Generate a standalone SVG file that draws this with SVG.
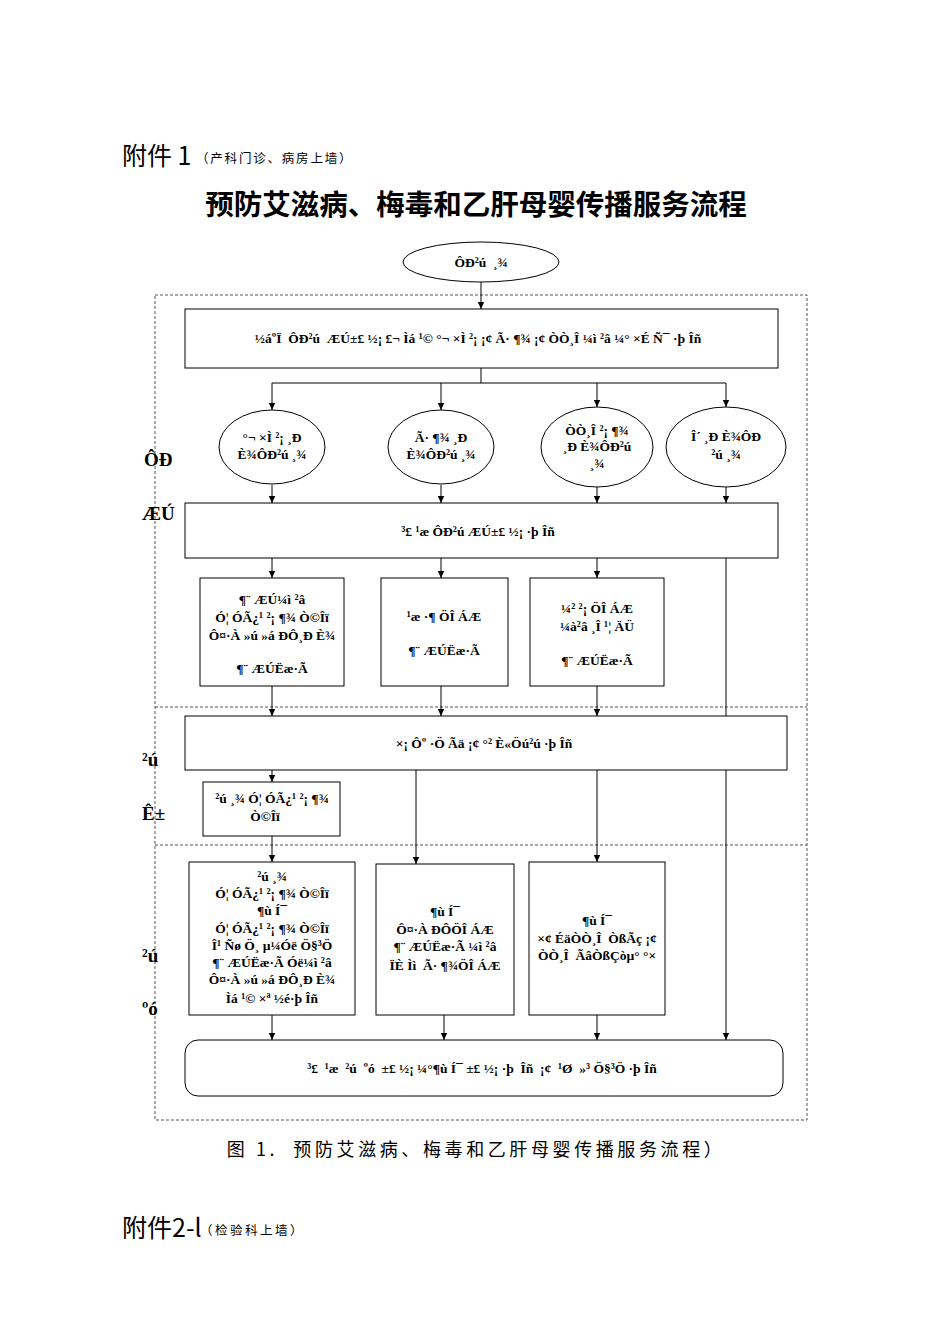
<svg xmlns="http://www.w3.org/2000/svg" width="950" height="1344" viewBox="0 0 950 1344">
<defs>
<marker id="ah" markerWidth="8" markerHeight="8" refX="7" refY="4" orient="auto" markerUnits="userSpaceOnUse">
<path d="M0,0.8 L7,4 L0,7.2 Z" fill="#000"/>
</marker>
<style>
.box{fill:#fff;stroke:#000;stroke-width:1}
.ln{fill:none;stroke:#000;stroke-width:1}
.arr{fill:none;stroke:#000;stroke-width:1;marker-end:url(#ah)}
.dash{fill:none;stroke:#555;stroke-width:1;stroke-dasharray:3,2}
.t{font-family:"Liberation Serif",serif;font-weight:bold;font-size:13.5px;fill:#000;text-anchor:middle;white-space:pre}
.side{font-family:"Liberation Serif",serif;font-weight:bold;font-size:19px;fill:#000}
.cjk{font-family:"Noto Sans CJK SC",sans-serif;fill:#000;white-space:pre}
</style>
</defs>
<rect width="950" height="1344" fill="#fff"/>

<g id="header">
<text class="cjk" x="122" y="165" font-size="25">附件 1</text>
<text class="cjk" x="196" y="163" font-size="12.5" letter-spacing="1.8">（产科门诊、病房上墙）</text>
<text class="cjk" x="476" y="215" font-size="28.5" font-weight="bold" text-anchor="middle">预防艾滋病、梅毒和乙肝母婴传播服务流程</text>
</g>

<g id="frame">
<rect class="dash" x="155" y="295" width="652" height="825"/>
<line class="dash" x1="155" y1="707" x2="807" y2="707"/>
<line class="dash" x1="155" y1="845" x2="807" y2="845"/>
</g>

<g id="connectors">
<line class="arr" x1="481" y1="282" x2="481" y2="309"/>
<line class="ln" x1="481" y1="368" x2="481" y2="383"/>
<line class="ln" x1="272" y1="383" x2="726" y2="383"/>
<line class="arr" x1="272" y1="383" x2="272" y2="410"/>
<line class="arr" x1="441" y1="383" x2="441" y2="410"/>
<line class="arr" x1="597" y1="383" x2="597" y2="407"/>
<line class="arr" x1="726" y1="383" x2="726" y2="407"/>
<line class="arr" x1="272" y1="485" x2="272" y2="503"/>
<line class="arr" x1="441" y1="485" x2="441" y2="503"/>
<line class="arr" x1="597" y1="487" x2="597" y2="503"/>
<line class="arr" x1="726" y1="487" x2="726" y2="503"/>
<line class="arr" x1="272" y1="558" x2="272" y2="578"/>
<line class="arr" x1="441" y1="558" x2="441" y2="578"/>
<line class="arr" x1="597" y1="558" x2="597" y2="578"/>
<line class="arr" x1="726" y1="558" x2="726" y2="1040"/>
<line class="arr" x1="272" y1="686" x2="272" y2="716"/>
<line class="arr" x1="441" y1="686" x2="441" y2="716"/>
<line class="arr" x1="597" y1="686" x2="597" y2="716"/>
<line class="arr" x1="272" y1="770" x2="272" y2="782"/>
<line class="arr" x1="272" y1="836" x2="272" y2="862"/>
<line class="arr" x1="416" y1="770" x2="416" y2="864"/>
<line class="arr" x1="597" y1="770" x2="597" y2="862"/>
<line class="arr" x1="272" y1="1015" x2="272" y2="1040"/>
<line class="arr" x1="444" y1="1015" x2="444" y2="1040"/>
<line class="arr" x1="597" y1="1015" x2="597" y2="1040"/>
</g>

<g id="start">
<ellipse class="box" cx="481" cy="262" rx="78" ry="20"/>
<text class="t" x="481" y="267">ÔÐ²ú  ¸¾</text>
</g>

<g id="box1">
<rect class="box" x="185" y="309" width="593" height="59"/>
<text class="t" x="478" y="343">½áºÏ  ÔÐ²ú  ÆÚ±£ ½¡ £¬ Ìá ¹© °¬ ×Ì ²¡ ¡¢ Ã· ¶¾ ¡¢ ÒÒ¸Î ¼ì ²â ¼° ×É Ñ¯ ·þ Îñ</text>
</g>

<g id="e1">
<ellipse class="box" cx="272" cy="447" rx="53" ry="37"/>
<text class="t" x="272" y="442">°¬ ×Ì ²¡ ¸Ð</text>
<text class="t" x="272" y="459">È¾ÔÐ²ú ¸¾</text>
</g>
<g id="e2">
<ellipse class="box" cx="441" cy="447" rx="53" ry="37"/>
<text class="t" x="441" y="442">Ã· ¶¾ ¸Ð</text>
<text class="t" x="441" y="459">È¾ÔÐ²ú ¸¾</text>
</g>
<g id="e3">
<ellipse class="box" cx="597" cy="447" rx="56" ry="40"/>
<text class="t" x="597" y="435">ÒÒ¸Î ²¡ ¶¾</text>
<text class="t" x="597" y="451">¸Ð È¾ÔÐ²ú</text>
<text class="t" x="597" y="468">¸¾</text>
</g>
<g id="e4">
<ellipse class="box" cx="726" cy="447" rx="60" ry="40"/>
<text class="t" x="726" y="441">Î´ ¸Ð È¾ÔÐ</text>
<text class="t" x="726" y="459">²ú ¸¾</text>
</g>

<g id="side-labels">
<text class="side" x="144" y="466">ÔÐ</text>
<text class="side" x="142" y="520">ÆÚ</text>
<text class="side" x="142" y="766">²ú</text>
<text class="side" x="142" y="820">Ê±</text>
<text class="side" x="142" y="962">²ú</text>
<text class="side" x="142" y="1015">ºó</text>
</g>

<g id="box2">
<rect class="box" x="185" y="503" width="593" height="55"/>
<text class="t" x="478" y="536">³£ ¹æ ÔÐ²ú ÆÚ±£ ½¡ ·þ Îñ</text>
</g>

<g id="a1">
<rect class="box" x="200" y="578" width="144" height="108"/>
<text class="t" x="272" y="604">¶¨ ÆÚ¼ì ²â</text>
<text class="t" x="272" y="622">Ó¦ ÓÃ¿¹ ²¡ ¶¾ Ò©Îï</text>
<text class="t" x="272" y="640">Ô¤·À »ú »á ÐÔ¸Ð È¾</text>
<text class="t" x="272" y="673">¶¨ ÆÚËæ·Ã</text>
</g>
<g id="a2">
<rect class="box" x="381" y="578" width="127" height="108"/>
<text class="t" x="444" y="621">¹æ ·¶ ÖÎ ÁÆ</text>
<text class="t" x="444" y="655">¶¨ ÆÚËæ·Ã</text>
</g>
<g id="a3">
<rect class="box" x="530" y="578" width="134" height="108"/>
<text class="t" x="597" y="613">¼² ²¡ ÖÎ ÁÆ</text>
<text class="t" x="597" y="631">¼à²â ¸Î ¹¦ ÄÜ</text>
<text class="t" x="597" y="665">¶¨ ÆÚËæ·Ã</text>
</g>

<g id="box3">
<rect class="box" x="185" y="716" width="602" height="54"/>
<text class="t" x="484" y="748">×¡ Ôº ·Ö Ãä ¡¢ °² È«Öú²ú ·þ Îñ</text>
</g>

<g id="small">
<rect class="box" x="203" y="782" width="137" height="54"/>
<text class="t" x="272" y="803">²ú ¸¾ Ó¦ ÓÃ¿¹ ²¡ ¶¾</text>
<text class="t" x="265" y="821">Ò©Îï</text>
</g>

<g id="b1">
<rect class="box" x="189" y="862" width="166" height="153"/>
<text class="t" x="272" y="881">²ú ¸¾</text>
<text class="t" x="272" y="898">Ó¦ ÓÃ¿¹ ²¡ ¶¾ Ò©Îï</text>
<text class="t" x="272" y="915">¶ù Í¯</text>
<text class="t" x="272" y="933">Ó¦ ÓÃ¿¹ ²¡ ¶¾ Ò©Îï</text>
<text class="t" x="272" y="950">Î¹ Ñø Ö¸ µ¼Óë Ö§³Ö</text>
<text class="t" x="272" y="967">¶¨ ÆÚËæ·Ã Óë¼ì ²â</text>
<text class="t" x="272" y="984">Ô¤·À »ú »á ÐÔ¸Ð È¾</text>
<text class="t" x="272" y="1003">Ìá ¹© ×ª ½é·þ Îñ</text>
</g>
<g id="b2">
<rect class="box" x="376" y="864" width="138" height="151"/>
<text class="t" x="445" y="916">¶ù Í¯</text>
<text class="t" x="445" y="934">Ô¤·À ÐÔÖÎ ÁÆ</text>
<text class="t" x="445" y="951">¶¨ ÆÚËæ·Ã ¼ì ²â</text>
<text class="t" x="445" y="970">ÏÈ Ìì  Ã· ¶¾ÖÎ ÁÆ</text>
</g>
<g id="b3">
<rect class="box" x="529" y="862" width="136" height="153"/>
<text class="t" x="597" y="925">¶ù Í¯</text>
<text class="t" x="597" y="943">×¢ ÉäÒÒ¸Î  ÒßÃç ¡¢</text>
<text class="t" x="597" y="960">ÒÒ¸Î  ÃâÒßÇòµ° °×</text>
</g>

<g id="bottom">
<rect class="box" x="185" y="1040" width="598" height="56" rx="13" ry="13"/>
<text class="t" x="482" y="1073">³£  ¹æ  ²ú  ºó  ±£ ½¡ ¼°¶ù Í¯ ±£ ½¡ ·þ  Îñ  ¡¢  ¹Ø  »³ Ö§³Ö ·þ Îñ</text>
</g>

<g id="caption">
<text class="cjk" x="476" y="1156" font-size="18" letter-spacing="3.6" text-anchor="middle">图 1.  预防艾滋病、梅毒和乙肝母婴传播服务流程）</text>
<text class="cjk" x="122" y="1237" font-size="25">附件2-l</text>
<text class="cjk" x="200" y="1235" font-size="12.5" letter-spacing="2.5">（检验科上墙）</text>
</g>
</svg>
